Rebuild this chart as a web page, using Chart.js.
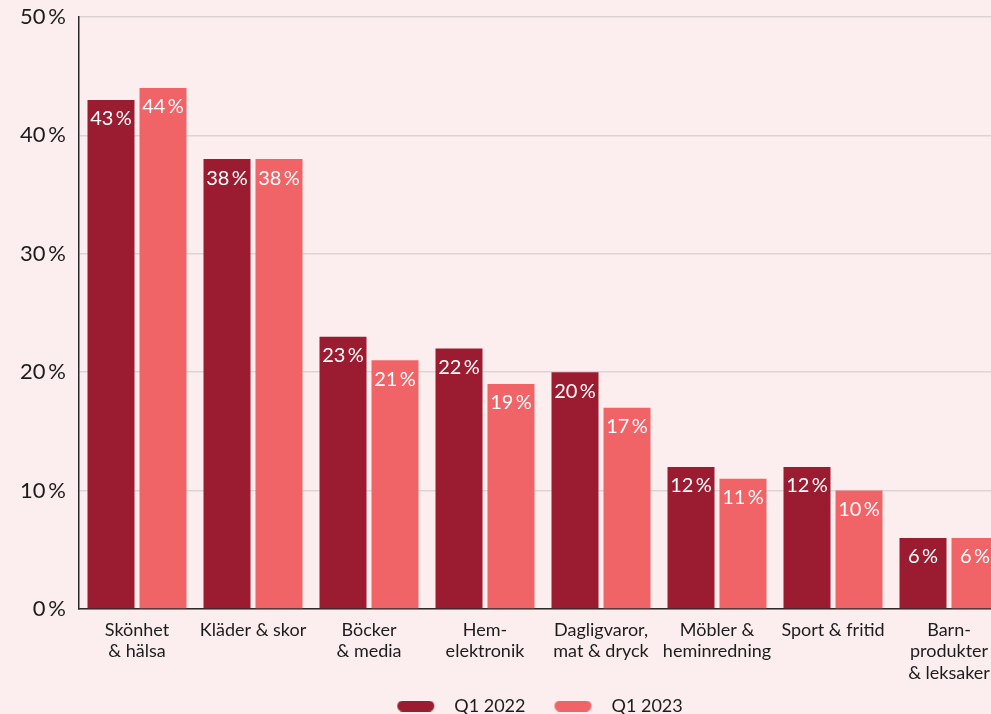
<!DOCTYPE html>
<html>
<head>
<meta charset="utf-8">
<script src="https://cdn.jsdelivr.net/npm/chart.js@4.4.1/dist/chart.umd.min.js"></script>
<style>
  html, body { margin: 0; padding: 0; background: #FCEEEE; overflow: hidden; }
  #wrap { width: 1010px; height: 714px; }
</style>
</head>
<body>
<div id="wrap"><canvas id="c" width="1010" height="714"></canvas></div>
<script>
const categories = [
  ['Skönhet', '& hälsa'],
  'Kläder & skor',
  ['Böcker', '& media'],
  ['Hem-', 'elektronik'],
  ['Dagligvaror,', 'mat & dryck'],
  ['Möbler &', 'heminredning'],
  'Sport & fritid',
  ['Barn-', 'produkter', '& leksaker']
];
const seriesNames = ['Q1 2022', 'Q1 2023'];
const q1_2022 = [43, 38, 23, 22, 20, 12, 12, 6];
const q1_2023 = [44, 38, 21, 19, 17, 11, 10, 6];
const yTicks = [0, 10, 20, 30, 40, 50];

const DARK = '#9B1C30';
const CORAL = '#F06467';
const TEXT = '#1C1C1C';
const FONT = 'Lato, "Open Sans", sans-serif';

function pill(color) {
  const c = document.createElement('canvas');
  c.width = 77; c.height = 11;
  const x = c.getContext('2d');
  x.fillStyle = color;
  x.beginPath();
  x.roundRect(29, 0, 37, 11, 5.5);
  x.fill();
  return c;
}
const pills = [pill(DARK), pill(CORAL)];

const valueLabels = {
  id: 'valueLabels',
  afterDatasetsDraw(chart) {
    const ctx = chart.ctx;
    ctx.save();
    ctx.font = '20px ' + FONT;
    ctx.fillStyle = '#FFFFFF';
    ctx.textAlign = 'center';
    ctx.textBaseline = 'middle';
    chart.data.datasets.forEach((ds, i) => {
      chart.getDatasetMeta(i).data.forEach((bar, j) => {
        ctx.fillText(ds.data[j] + '\u2009%', bar.x, bar.y + 19);
      });
    });
    ctx.restore();
  }
};

const legendPlacement = {
  id: 'legendPlacement',
  beforeDraw(chart) {
    const lg = chart.legend;
    if (!lg) return;
    const h = lg.bottom - lg.top;
    lg.left = 44; lg.right = 1007;
    lg.top = 697;
    lg.bottom = lg.top + h;
  }
};

new Chart(document.getElementById('c'), {
  type: 'bar',
  data: {
    labels: categories,
    datasets: [
      { label: seriesNames[0], data: q1_2022, backgroundColor: DARK,
        barPercentage: 47 / 52, categoryPercentage: 104 / 116 },
      { label: seriesNames[1], data: q1_2023, backgroundColor: CORAL,
        barPercentage: 47 / 52, categoryPercentage: 104 / 116 }
    ]
  },
  options: {
    responsive: false,
    animation: false,
    layout: { padding: { left: 0, right: 3, top: 17, bottom: 0 } },
    plugins: {
      tooltip: { enabled: false },
      legend: {
        position: 'bottom',
        labels: {
          usePointStyle: true,
          pointStyleWidth: 77,
          boxHeight: 11,
          padding: 0,
          color: TEXT,
          font: { family: FONT, size: 18 },
          generateLabels(chart) {
            const items = Chart.defaults.plugins.legend.labels.generateLabels(chart);
            items.forEach((it, i) => { it.pointStyle = pills[i]; });
            return items;
          }
        }
      }
    },
    scales: {
      x: {
        grid: { display: false, drawTicks: false },
        border: { display: true, color: '#2A2A2A', width: 1.5 },
        ticks: {
          color: TEXT, font: { family: FONT, size: 18 }, padding: 10,
          maxRotation: 0, autoSkip: false
        },
        afterFit(s) { s.height = 77; }
      },
      y: {
        min: 0, max: 50,
        afterBuildTicks(s) { s.ticks = yTicks.map(v => ({ value: v })); },
        grid: { color: '#DDD3D3', lineWidth: 1.5, drawTicks: true, tickLength: 13, tickColor: 'rgba(0,0,0,0)' },
        border: { display: true, color: '#2A2A2A', width: 1.5 },
        ticks: {
          color: TEXT, font: { family: FONT, size: 22 }, padding: 0,
          callback: v => v + '\u2009%'
        },
        afterFit(s) { s.width = 79; }
      }
    }
  },
  plugins: [valueLabels, legendPlacement]
});
</script>
</body>
</html>
